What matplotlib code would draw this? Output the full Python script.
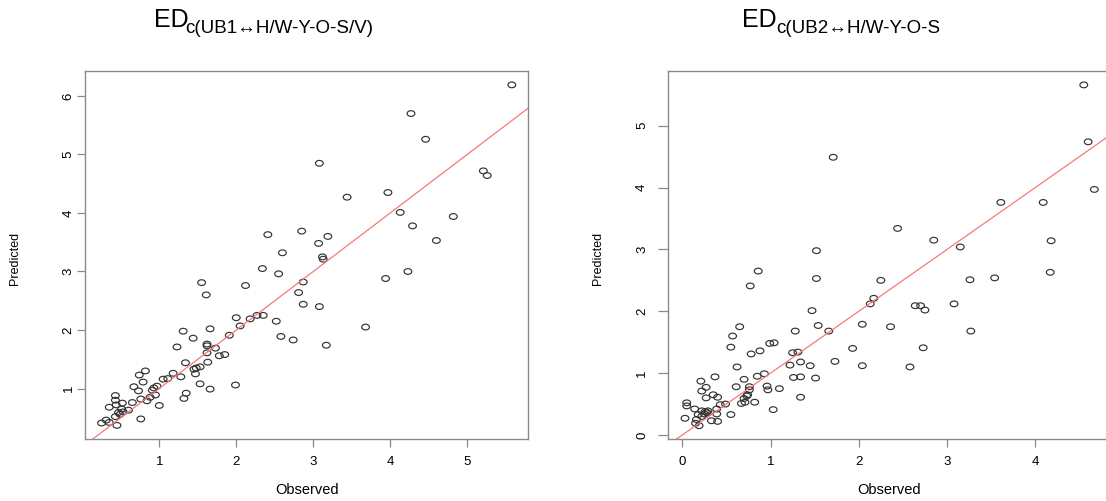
import numpy as np
import matplotlib
matplotlib.use("Agg")
import matplotlib.pyplot as plt
from matplotlib.path import Path
from matplotlib.transforms import Affine2D

plt.rcParams['font.family'] = ['Liberation Sans', 'DejaVu Sans']

# Left panel: observed vs predicted
obs1 = [5.58, 4.27, 4.46, 3.08, 3.44, 3.97, 5.21, 5.26, 4.13, 4.82, 4.29, 2.85, 3.07, 3.19, 3.12,
        3.13, 4.60, 4.23, 3.94, 2.41, 2.60, 2.34, 2.55, 2.87, 2.81, 2.87, 3.08, 3.68, 3.17, 1.55,
        1.61, 2.12, 2.00, 2.18, 2.27, 2.35, 2.52, 2.05, 1.31, 1.66, 1.44, 1.91, 2.58, 2.74, 1.23,
        1.62, 1.62, 1.73, 1.62, 1.78, 1.85, 1.34, 1.63, 1.48, 1.53, 1.45, 1.47, 0.82, 0.74, 0.79,
        1.18, 1.28, 1.05, 1.11, 0.67, 0.73, 0.93, 0.97, 0.91, 1.53, 1.66, 1.99, 1.35, 1.32, 0.95,
        0.88, 0.84, 0.76, 0.65, 1.00, 0.43, 0.43, 0.35, 0.52, 0.44, 0.51, 0.47, 0.53, 0.60, 0.43,
        0.49, 0.76, 0.25, 0.31, 0.35, 0.45]
pred1 = [6.19, 5.70, 5.26, 4.85, 4.27, 4.35, 4.72, 4.64, 4.01, 3.94, 3.78, 3.69, 3.48, 3.60, 3.25,
         3.21, 3.53, 3.00, 2.88, 3.63, 3.32, 3.05, 2.96, 2.82, 2.64, 2.44, 2.40, 2.05, 1.74, 2.81,
         2.60, 2.76, 2.21, 2.19, 2.25, 2.25, 2.15, 2.07, 1.98, 2.02, 1.86, 1.91, 1.89, 1.83, 1.71,
         1.76, 1.73, 1.69, 1.61, 1.56, 1.58, 1.44, 1.45, 1.35, 1.37, 1.33, 1.25, 1.30, 1.23, 1.11,
         1.26, 1.20, 1.16, 1.17, 1.03, 0.96, 1.01, 1.04, 0.97, 1.08, 0.99, 1.06, 0.92, 0.83, 0.89,
         0.85, 0.79, 0.82, 0.76, 0.71, 0.88, 0.80, 0.68, 0.75, 0.72, 0.65, 0.59, 0.60, 0.63, 0.52,
         0.56, 0.48, 0.41, 0.46, 0.42, 0.37]

# Right panel
obs2 = [4.55, 4.60, 4.67, 3.61, 4.09, 2.44, 2.85, 3.15, 4.18, 4.17, 2.25, 3.26, 3.54, 1.71, 1.52,
        0.86, 1.52, 2.17, 2.13, 2.64, 2.70, 2.75, 3.08, 2.04, 2.36, 3.27, 2.73, 2.04, 2.58, 0.77,
        1.47, 1.54, 1.66, 0.65, 0.57, 0.55, 0.99, 1.04, 0.88, 0.78, 1.28, 1.25, 1.31, 1.34, 1.22,
        1.45, 1.73, 1.93, 0.62, 0.85, 0.93, 1.26, 1.34, 1.51, 0.70, 0.37, 0.21, 0.22, 0.27, 0.61,
        0.76, 0.76, 0.96, 0.97, 1.10, 0.27, 0.35, 0.40, 0.73, 0.70, 0.71, 0.74, 1.34, 0.05, 0.05,
        0.14, 0.43, 0.49, 0.39, 0.67, 0.82, 1.03, 0.22, 0.26, 0.29, 0.25, 0.28, 0.18, 0.22, 0.39,
        0.03, 0.16, 0.15, 0.19, 0.33, 0.40, 0.55]
pred2 = [5.66, 4.74, 3.97, 3.76, 3.76, 3.34, 3.15, 3.04, 3.14, 2.63, 2.50, 2.51, 2.54, 4.49, 2.98,
         2.65, 2.53, 2.21, 2.12, 2.09, 2.09, 2.02, 2.12, 1.79, 1.75, 1.68, 1.41, 1.12, 1.10, 2.41,
         2.01, 1.77, 1.68, 1.75, 1.60, 1.42, 1.48, 1.49, 1.36, 1.31, 1.68, 1.33, 1.34, 1.18, 1.13,
         1.12, 1.19, 1.40, 1.10, 0.95, 0.99, 0.93, 0.94, 0.92, 0.90, 0.94, 0.87, 0.71, 0.77, 0.78,
         0.78, 0.73, 0.79, 0.73, 0.75, 0.60, 0.65, 0.61, 0.63, 0.59, 0.53, 0.65, 0.61, 0.52, 0.47,
         0.42, 0.49, 0.50, 0.42, 0.51, 0.53, 0.41, 0.39, 0.38, 0.39, 0.34, 0.36, 0.33, 0.30, 0.34,
         0.27, 0.25, 0.19, 0.15, 0.23, 0.22, 0.33]

W, H = 1106, 501
fig = plt.figure(figsize=(W / 100, H / 100), dpi=100)

def px(x, y):
    return x / W, 1 - y / H

# slightly wide open circle, like the stretched original
ring = Path.unit_circle().transformed(Affine2D().scale(1.35, 1.0))
box_col = '#8a8a8a'

def panel(rect, x, y, xlim, ylim, xt, yt, ytick_len, ypad):
    ax = fig.add_axes(rect)
    ax.scatter(x, y, marker=ring, s=31, facecolors='none', edgecolors='#333333', linewidths=0.85)
    ax.axline((0, 0), slope=1, color='#f47a7a', lw=0.9)
    ax.set_xlim(xlim)
    ax.set_ylim(ylim)
    ax.set_xticks(xt)
    ax.set_yticks(yt)
    for s in ax.spines.values():
        s.set_color(box_col)
        s.set_linewidth(1.0)
    ax.tick_params(axis='x', length=5.5, width=0.9, color=box_col, pad=7, labelsize=9.5)
    ax.tick_params(axis='y', length=ytick_len, width=0.9, color=box_col, pad=ypad, labelsize=9.5)
    for lab in ax.get_yticklabels():
        lab.set_rotation(90)
        lab.set_va('center')
    return ax

ax1 = panel([85 / W, 62 / H, 443 / W, 368 / H], obs1, pred1,
            (0.035, 5.79), (0.137, 6.427), [1, 2, 3, 4, 5], [1, 2, 3, 4, 5, 6], 5.5, 2)
ax2 = panel([668.3 / W, 62 / H, 443.7 / W, 368 / H], obs2, pred2,
            (-0.159, 4.87), (-0.065, 5.885), [0, 1, 2, 3, 4], [0, 1, 2, 3, 4, 5], 7.5, 7)

# axis titles
fig.text(*px(307, 490), 'Observed', ha='center', va='center', fontsize=10.5)
fig.text(*px(889, 490), 'Observed', ha='center', va='center', fontsize=10.5)
fig.text(*px(15, 258), 'Predicted', ha='center', va='center', rotation=90, fontsize=9)
fig.text(*px(598, 258), 'Predicted', ha='center', va='center', rotation=90, fontsize=9)

# panel titles: big "ED" with a lowered subscript
fig.text(*px(154, 27), 'ED', ha='left', va='baseline', fontsize=18)
fig.text(*px(185, 33), 'c(UB1\u2194H/W-Y-O-S/V)', ha='left', va='baseline', fontsize=13.5)
fig.text(*px(742, 27), 'ED', ha='left', va='baseline', fontsize=18)
fig.text(*px(776, 33), 'c(UB2\u2194H/W-Y-O-S', ha='left', va='baseline', fontsize=13.5)

fig.savefig('out.png', dpi=100)
plt.close(fig)
